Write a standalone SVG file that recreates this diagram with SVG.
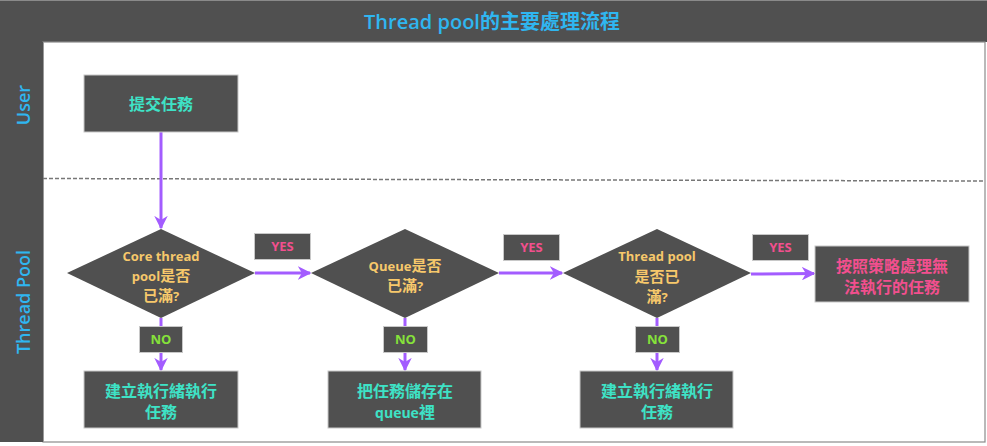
<svg xmlns="http://www.w3.org/2000/svg" width="987" height="446" viewBox="0 0 987 446">
<defs>
<marker id="ah" viewBox="0 0 10 10" refX="9" refY="5" markerWidth="4.5" markerHeight="4.5" orient="auto" markerUnits="strokeWidth">
<path d="M0,0 L10,5 L0,10 L3,5 Z" fill="#a35cff"/>
</marker>
<style>
text{font-family:"Open Sans","Noto Sans CJK TC","Noto Sans CJK SC",sans-serif;text-anchor:middle}
.box{fill:#505050;stroke:#c8c8c8;stroke-width:1}
.dia{fill:#505050}
.teal{fill:#3ee2c6;font-size:16px;font-weight:bold}
.pink{fill:#f24f8e;font-size:16px;font-weight:bold}
.yel{fill:#f7c86b;font-weight:bold}
.lbl{fill:#505050;stroke:#c8c8c8;stroke-width:1}
.yes{fill:#f24f8e;font-size:13px;font-weight:bold}
.no{fill:#86e23a;font-size:13px;font-weight:bold}
.lane{fill:#2fb6f0;font-size:18px;font-weight:600}
.con{stroke:#a35cff;stroke-width:3;fill:none}
</style>
</defs>
<rect x="0" y="0" width="987" height="446" fill="#ffffff"/>
<g id="title">
<rect x="0" y="0" width="987" height="42" fill="#505050"/>
<line x1="0" y1="0.5" x2="987" y2="0.5" stroke="#8a8a8a"/>
<text x="492" y="29" style="font-size:20px;font-weight:600;fill:#2fb6f0">Thread pool的主要處理流程</text>
</g>
<g id="frame">
<rect x="43" y="42" width="942" height="400" fill="#ffffff" stroke="#8a8a8a" stroke-width="1.2"/>
<rect x="0" y="42" width="43" height="400" fill="#505050"/>
<line x1="43.5" y1="42" x2="43.5" y2="442" stroke="#9a9a9a"/>
<line x1="43" y1="178.5" x2="985" y2="181" stroke="#777" stroke-width="1.5" stroke-dasharray="4,2"/>
<text class="lane" transform="translate(30,105) rotate(-90)">User</text>
<text class="lane" transform="translate(30,302) rotate(-90)">Thread Pool</text>
</g>
<g id="connectors">
<line class="con" x1="161" y1="132" x2="161" y2="228" marker-end="url(#ah)"/>
<line class="con" x1="255" y1="273" x2="310" y2="273" marker-end="url(#ah)"/>
<line class="con" x1="499" y1="273" x2="562" y2="273" marker-end="url(#ah)"/>
<line class="con" x1="751" y1="274" x2="814" y2="273.5" marker-end="url(#ah)"/>
<line class="con" x1="161" y1="318" x2="161" y2="370" marker-end="url(#ah)"/>
<line class="con" x1="405" y1="318" x2="405" y2="370" marker-end="url(#ah)"/>
<line class="con" x1="657" y1="318" x2="657" y2="370" marker-end="url(#ah)"/>
</g>
<g id="submit">
<rect class="box" x="84" y="75" width="154" height="57"/>
<text class="teal" x="161" y="110">提交任務</text>
</g>
<g id="core-full">
<polygon class="dia" points="161,229 255,273 161,318 67,273"/>
<text class="yel" x="161" y="261" style="font-size:13px">Core thread</text>
<text class="yel" x="161" y="281" style="font-size:15px"><tspan style="font-size:13px">pool</tspan>是否</text>
<text class="yel" x="161" y="301" style="font-size:15px">已滿<tspan style="font-size:13px">?</tspan></text>
</g>
<g id="queue-full">
<polygon class="dia" points="405,229 499,273 405,318 311,273"/>
<text class="yel" x="405" y="271" style="font-size:15px"><tspan style="font-size:13px">Queue</tspan>是否</text>
<text class="yel" x="405" y="291" style="font-size:15px">已滿<tspan style="font-size:13px">?</tspan></text>
</g>
<g id="pool-full">
<polygon class="dia" points="657,229 751,273 657,318 563,273"/>
<text class="yel" x="657" y="261" style="font-size:13px">Thread pool</text>
<text class="yel" x="657" y="282" style="font-size:15px">是否已</text>
<text class="yel" x="657" y="302" style="font-size:15px">滿<tspan style="font-size:13px">?</tspan></text>
</g>
<g id="reject">
<rect class="box" x="815" y="246" width="154" height="56"/>
<text class="pink" x="892" y="272">按照策略處理無</text>
<text class="pink" x="892" y="293">法執行的任務</text>
</g>
<g id="new-thread-1">
<rect class="box" x="84" y="371" width="154" height="57"/>
<text class="teal" x="161" y="397">建立執行緒執行</text>
<text class="teal" x="161" y="418">任務</text>
</g>
<g id="enqueue">
<rect class="box" x="328" y="371" width="153" height="57"/>
<text class="teal" x="405" y="397">把任務儲存在</text>
<text class="teal" x="405" y="418"><tspan style="font-size:14px">queue</tspan>裡</text>
</g>
<g id="new-thread-2">
<rect class="box" x="580" y="371" width="153" height="57"/>
<text class="teal" x="657" y="397">建立執行緒執行</text>
<text class="teal" x="657" y="418">任務</text>
</g>
<g id="labels">
<rect class="lbl" x="254.5" y="233.5" width="56" height="26"/>
<text class="yes" x="282.5" y="251">YES</text>
<rect class="lbl" x="503.5" y="234.5" width="56" height="26"/>
<text class="yes" x="531.5" y="252">YES</text>
<rect class="lbl" x="752.5" y="234.5" width="56" height="26"/>
<text class="yes" x="780.5" y="252">YES</text>
<rect class="lbl" x="139.5" y="326.5" width="43" height="26"/>
<text class="no" x="161" y="344">NO</text>
<rect class="lbl" x="383.5" y="326.5" width="44" height="26"/>
<text class="no" x="405.5" y="344">NO</text>
<rect class="lbl" x="635.5" y="326.5" width="44" height="26"/>
<text class="no" x="657.5" y="344">NO</text>
</g>
</svg>
